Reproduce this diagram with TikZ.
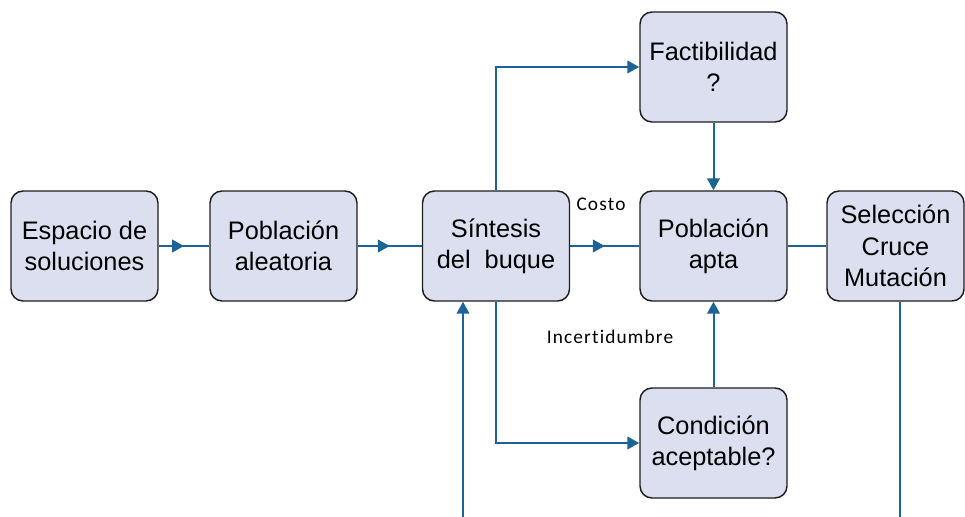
\documentclass[tikz,border=0pt]{standalone}
\usepackage{fontspec}
\setmainfont{Liberation Sans}
\newfontfamily\calibrifont[LetterSpace=6,Ligatures=NoCommon]{Carlito}
\usetikzlibrary{arrows.meta,decorations.markings}

\definecolor{boxfill}{RGB}{220,223,240}
\definecolor{flowblue}{RGB}{28,100,152}

\tikzset{every picture/.style={line width=0.75pt}}
\tikzset{
  procbox/.style={draw={rgb,255:red,30;green,30;blue,30}, line width=1.1pt, fill=boxfill, rounded corners=9pt,
    minimum width=110.25pt, minimum height=82.5pt, align=center, inner sep=1pt,
    font=\fontsize{19}{23.5}\selectfont},
  flow/.style={draw=flowblue, line width=1.5pt},
  endarrow/.style={flow, -{Triangle[length=9pt,width=9.5pt]}},
  midarrow/.style={flow, postaction={decorate, decoration={markings,
    mark=at position 0.5 with {\arrow[flowblue]{Triangle[length=9pt,width=9.5pt]}}}}},
  flowlabel/.style={font=\calibrifont\fontsize{14.5}{17}\selectfont, inner sep=0pt}
}

\begin{document}
\begin{tikzpicture}[x=0.75pt,y=0.75pt,yscale=-1,xscale=1]
\useasboundingbox (0,0) rectangle (965,517);

%Boxes
\node [procbox] (espacio) at (84.5,246) {Espacio de\\soluciones};
\node [procbox] (aleatoria) at (283.5,246) {Población\\aleatoria};
\node [procbox] (sintesis) at (496,246) {Síntesis\\del\ \ buque};
\node [procbox] (apta) at (713.5,246) {Población\\apta};
\node [procbox] (factible) at (713.5,67) {Factibilidad\\?};
\node [procbox] (condicion) at (713.5,443) {Condición\\aceptable?};
\node [procbox, minimum width=102.75pt] (seleccion) at (895.5,246) {Selección\\Cruce\\Mutación};

%Free ends at the bottom edge
\coordinate (retorno) at (463,517);
\coordinate (salida) at (900,517);

%Labels
\node [flowlabel] (costo) at (601,204) {Costo};
\node [flowlabel] (incert) at (610,337) {Incertidumbre};

%Main row
\draw [midarrow] (espacio) -- (aleatoria);
\draw [midarrow] (aleatoria) -- (sintesis);
\draw [midarrow] (sintesis) -- (apta);
\draw [flow] (apta) -- (seleccion);

%Branches
\draw [endarrow] (sintesis.north) |- (factible.west);
\draw [endarrow] (factible.south) -- (apta.north);
\draw [endarrow] (sintesis.south) |- (condicion.west);
\draw [endarrow] (condicion.north) -- (apta.south);

%Loop ends
\draw [endarrow] (retorno) -- (retorno |- sintesis.south);
\draw [flow] (seleccion.south -| salida) -- (salida);

\end{tikzpicture}
\end{document}
